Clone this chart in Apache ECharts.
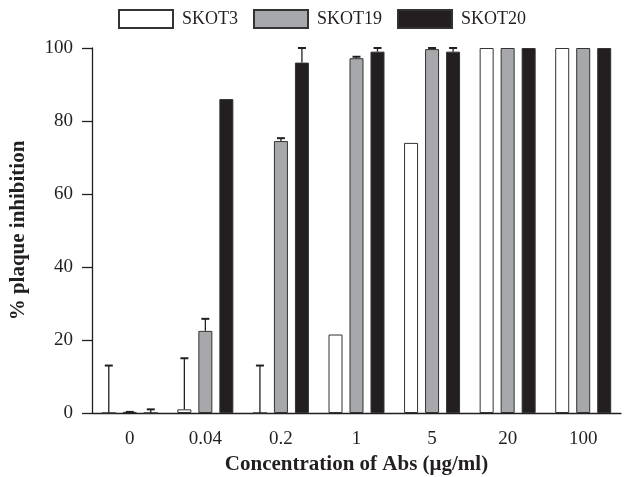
<!DOCTYPE html>
<html>
<head>
<meta charset="utf-8">
<script src="https://cdn.jsdelivr.net/npm/echarts@6/dist/echarts.min.js"></script>
<style>
  html, body { margin: 0; padding: 0; background: #fff; }
  #chart { width: 630px; height: 477px; }
</style>
</head>
<body>
<div id="chart"></div>
<script>
// concentrations on the x axis
var concentrations = ['0', '0.04', '0.2', '1', '5', '20', '100'];
var seriesNames = ['SKOT3', 'SKOT19', 'SKOT20'];

// bar heights (% plaque inhibition)
var skot3 = [0, 1, 0, 21.5, 74, 100, 100];
var skot19 = [0.3, 22.5, 74.5, 97.2, 99.7, 100, 100];
var skot20 = [0, 86, 96, 99, 99, 100, 100];

// tops of the upper error bars (null = none drawn)
var skot3Err = [13, 15, 13, null, null, null, null];
var skot19Err = [0.3, 25.8, 75.3, 97.6, 100, null, null];
var skot20Err = [1, null, 100, 100, 100, null, null];

var FONT = 'Liberation Serif';
var BAR_W = 14;
var offsets = [-21, 0, 21];
var fills = ['#ffffff', '#a7a8ab', '#231f20'];
var values = [skot3, skot19, skot20];
var errs = [skot3Err, skot19Err, skot20Err];

var chart = echarts.init(document.getElementById('chart'));

var errData = [];
errs.forEach(function(arr, s) {
    arr.forEach(function(top, i) {
        if (top !== null) errData.push([i, values[s][i], top, offsets[s]]);
    });
});

function renderErr(params, api) {
    var base = api.coord([api.value(0), api.value(1)]);
    var top = api.coord([api.value(0), api.value(2)]);
    var x = base[0] + api.value(3);
    return {
        type: 'group',
        children: [
            { type: 'line', shape: { x1: x, y1: base[1], x2: x, y2: top[1] },
              style: { stroke: '#231f20', lineWidth: 1.3 } },
            { type: 'line', shape: { x1: x - 4, y1: top[1], x2: x + 4, y2: top[1] },
              style: { stroke: '#231f20', lineWidth: 2 } }
        ]
    };
}

var series = seriesNames.map(function(name, s) {
    return {
        name: name,
        type: 'bar',
        barWidth: BAR_W,
        barGap: '50%',
        itemStyle: { color: fills[s], borderColor: '#333', borderWidth: 1 },
        data: values[s]
    };
});
series.push({
    type: 'custom',
    renderItem: renderErr,
    data: errData,
    z: 5,
    silent: true
});

chart.setOption({
    animation: false,
    backgroundColor: '#fff',
    textStyle: { fontFamily: FONT },
    legend: {
        data: seriesNames,
        left: 113, top: 4,
        itemWidth: 54, itemHeight: 18, itemGap: 15,
        icon: 'rect',
        textStyle: { fontFamily: FONT, fontSize: 18, color: '#231f20', padding: [0, 0, 0, 4] }
    },
    grid: { left: 92, right: 9, top: 48, bottom: 64, outerBoundsMode: 'none' },
    xAxis: {
        type: 'category',
        data: concentrations,
        name: 'Concentration of Abs (μg/ml)',
        nameLocation: 'middle',
        nameGap: 40,
        nameTextStyle: { fontFamily: FONT, fontSize: 21, fontWeight: 'bold', color: '#231f20' },
        axisLine: { lineStyle: { color: '#231f20', width: 1.3 } },
        axisTick: { alignWithLabel: true, length: 9, lineStyle: { color: '#231f20', width: 1.3 } },
        axisLabel: { fontFamily: FONT, fontSize: 19, color: '#231f20', margin: 17 }
    },
    yAxis: {
        type: 'value',
        min: 0, max: 100, interval: 20,
        name: '% plaque inhibition',
        nameLocation: 'middle',
        nameGap: 63,
        nameTextStyle: { fontFamily: FONT, fontSize: 21, fontWeight: 'bold', color: '#231f20' },
        splitLine: { show: false },
        axisLine: { show: true, lineStyle: { color: '#231f20', width: 1.3 } },
        axisTick: { show: true, length: 10, lineStyle: { color: '#231f20', width: 1.3 } },
        axisLabel: { fontFamily: FONT, fontSize: 19, color: '#231f20', margin: 19 }
    },
    series: series
});
</script>
</body>
</html>
